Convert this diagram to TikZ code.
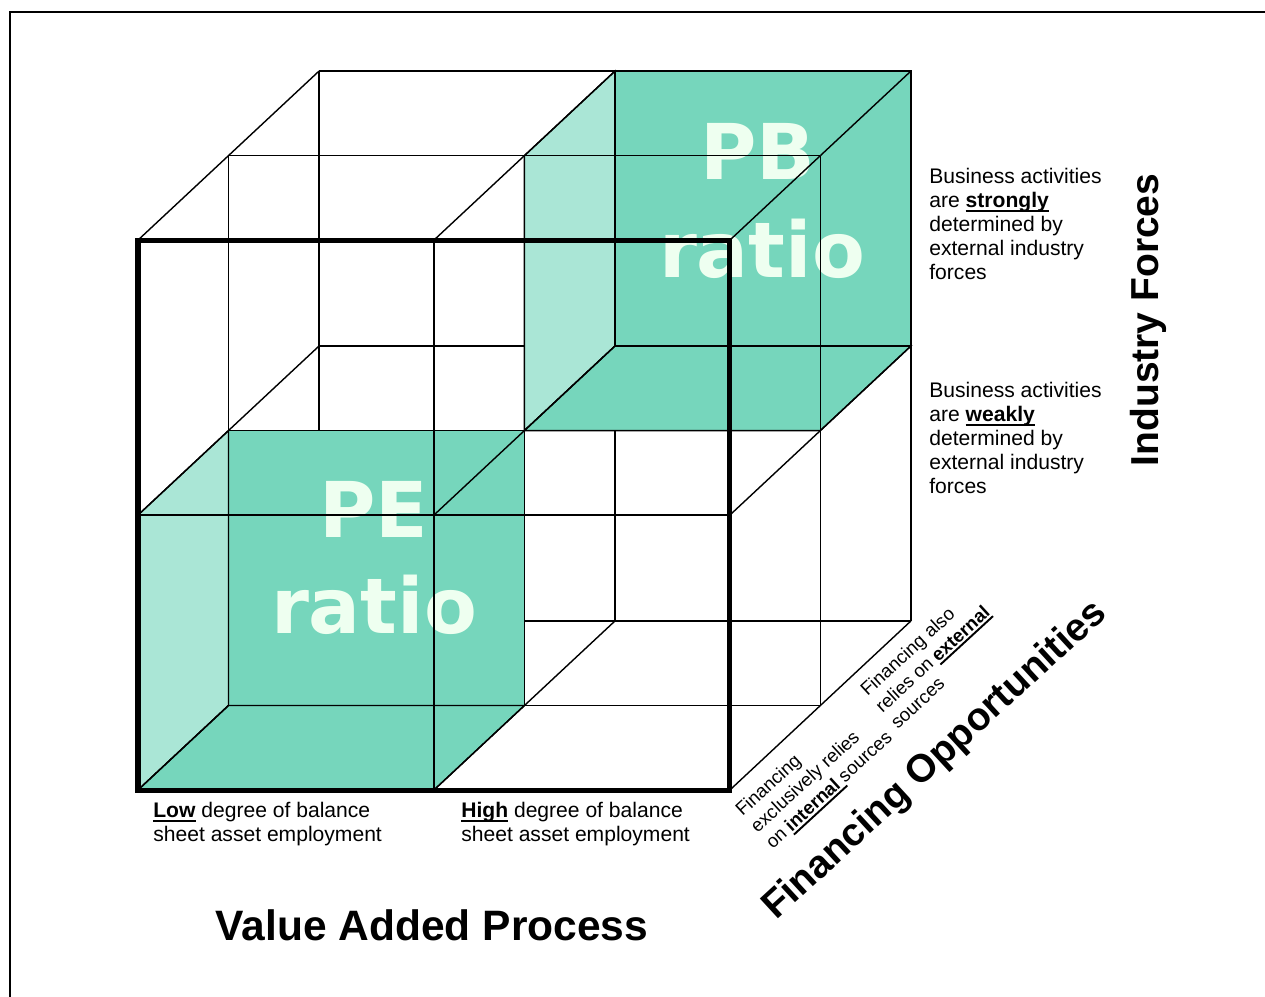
\documentclass[tikz,border=0pt]{standalone}
\usepackage{fontspec}
\setmainfont{Liberation Sans}
\newfontfamily\ratiofont{DejaVu Sans}

\newsavebox{\ulbox}
\newcommand{\ulbold}[1]{\sbox{\ulbox}{\textbf{#1}}\rlap{\rule[-2.3pt]{\wd\ulbox}{1.1pt}}\usebox{\ulbox}}

\definecolor{cubeteal}{RGB}{118,214,188}
\definecolor{sideteal}{RGB}{170,230,214}
\definecolor{ratiomint}{RGB}{238,255,240}

\tikzset{
  cube/.style={shift={(138,790)}, x={(5.92cm,0cm)}, y={(0cm,5.5cm)}, z={(1.81cm,1.69cm)}},
  frame line/.style={line width=1.1pt},
  grid line/.style={line width=0.8pt},
  front line/.style={line width=2.85pt},
  face/.style={fill=cubeteal, draw, line width=0.8pt},
  side face/.style={fill=sideteal, draw, line width=0.8pt},
  ratio text/.style={font=\ratiofont\bfseries\fontsize{43.8}{50}\selectfont, text=ratiomint, anchor=base, inner sep=0pt},
  note/.style={font=\fontsize{12}{13.66}\selectfont, align=left, anchor=north west, inner sep=0pt},
  small note/.style={font=\fontsize{10.6}{12.7}\selectfont, align=left, anchor=north west, inner sep=0pt, rotate=42.6},
  axis title/.style={font=\bfseries\fontsize{22.2}{26}\selectfont, inner sep=0pt},
}

\begin{document}
\begin{tikzpicture}[x=0.02cm, y=-0.02cm]
  \useasboundingbox (0,0) rectangle (1265,997);
  \draw[frame line] (10,997) -- (10,12) -- (1265,12); % page frame

  \begin{scope}[cube]
    % back layer of the grid
    \foreach \i in {0,1,2} {
      \draw[grid line] (\i,0,2) -- (\i,2,2);
      \draw[grid line] (0,\i,2) -- (2,\i,2);
    }
    % PB cube: back, left and bottom faces
    \filldraw[face] (1,1,2) -- (2,1,2) -- (2,2,2) -- (1,2,2) -- cycle;
    \filldraw[side face] (1,1,1) -- (1,1,2) -- (1,2,2) -- (1,2,1) -- cycle;
    \filldraw[face] (1,1,1) -- (2,1,1) -- (2,1,2) -- (1,1,2) -- cycle;
  \end{scope}

  \node[ratio text] (pb) at (758,179) {PB};
  \node[ratio text] (pbratio) at (762,277) {ratio};

  \begin{scope}[cube]
    \foreach \i in {0,1,2}
      \foreach \j in {0,1,2}
        \draw[grid line] (\i,\j,1) -- (\i,\j,2);
    % middle layer
    \foreach \i in {0,1,2} {
      \draw[grid line] (\i,0,1) -- (\i,2,1);
      \draw[grid line] (0,\i,1) -- (2,\i,1);
    }
    % PE cube: back, left and bottom faces
    \filldraw[face] (0,0,1) -- (1,0,1) -- (1,1,1) -- (0,1,1) -- cycle;
    \filldraw[side face] (0,0,0) -- (0,0,1) -- (0,1,1) -- (0,1,0) -- cycle;
    \filldraw[face] (0,0,0) -- (1,0,0) -- (1,0,1) -- (0,0,1) -- cycle;
  \end{scope}

  \node[ratio text] (pe) at (374,537) {PE};
  \node[ratio text] (peratio) at (374,633) {ratio};

  \begin{scope}[cube]
    \foreach \i in {0,1,2}
      \foreach \j in {0,1,2}
        \draw[grid line] (\i,\j,0) -- (\i,\j,1);
    % front layer
    \draw[grid line] (1,0,0) -- (1,2,0);
    \draw[grid line] (0,1,0) -- (2,1,0);
    \draw[front line] (0,0,0) -- (2,0,0) -- (2,2,0) -- (0,2,0) -- cycle;
  \end{scope}

  % industry forces levels
  \node[note] (strong) at (929,168) {Business activities\\are \ulbold{strongly}\\determined by\\external industry\\forces};
  \node[note] (weak) at (929,382) {Business activities\\are \ulbold{weakly}\\determined by\\external industry\\forces};

  % value added levels
  \node[note] (low) at (153,802) {\ulbold{Low} degree of balance\\sheet asset employment};
  \node[note] (high) at (461,802) {\ulbold{High} degree of balance\\sheet asset employment};

  % financing levels
  \node[small note] (internal) at (733,807) {Financing\\exclusively relies\\on \ulbold{internal }sources};
  \node[small note] (external) at (858,687) {Financing also\\relies on \ulbold{external}\\sources};

  % axis titles
  \node[axis title, rotate=90, anchor=base] (industry) at (1158,320) {Industry Forces};
  \node[axis title, rotate=42.6, anchor=base west] (financing) at (776,921) {Financing Opportunities};
  \node[axis title, font=\bfseries\fontsize{24.2}{28}\selectfont, anchor=base] (value) at (432,940) {Value Added Process};
\end{tikzpicture}
\end{document}
